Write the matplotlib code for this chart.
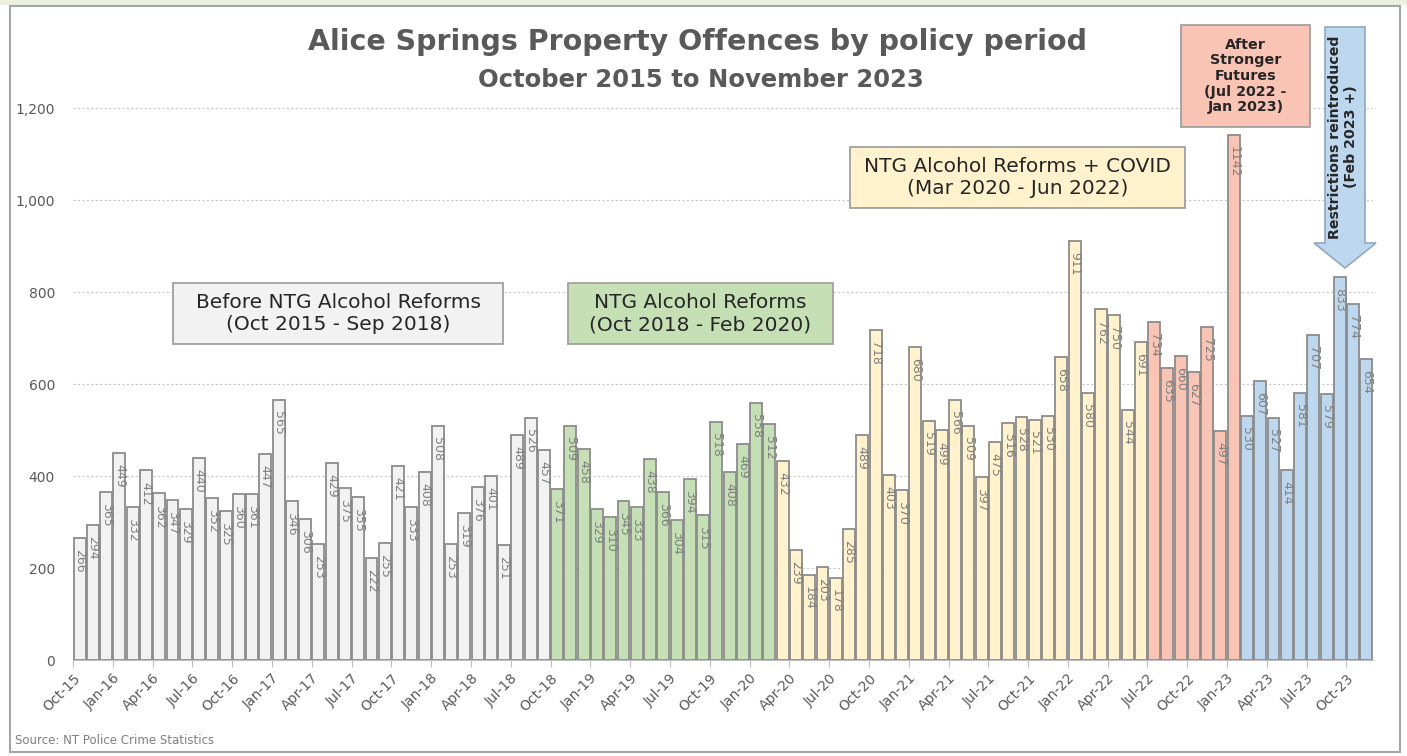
import matplotlib.pyplot as plt
from matplotlib.patches import Rectangle, FancyArrow

# monthly property offences, Oct 2015 - Nov 2023, split by policy period
before = [266, 294, 365, 449, 332, 412, 362, 347, 329, 440, 352, 325,
          360, 361, 447, 565, 346, 306, 253, 429, 375, 355, 222, 255,
          421, 333, 408, 508, 253, 319, 376, 401, 251, 489, 526, 457]
reforms = [371, 509, 458, 329, 310, 345, 333, 438, 366, 304, 394, 315,
           518, 408, 469, 558, 512]
covid = [432, 239, 184, 203, 178, 285, 489, 718, 403, 370, 680, 519,
         499, 566, 509, 397, 475, 516, 528, 521, 530, 658, 911, 580,
         762, 750, 544, 691]
after_sf = [734, 635, 660, 627, 725, 497, 1142]
restrict = [530, 607, 527, 414, 581, 707, 579, 833, 774, 654]

periods = [before, reforms, covid, after_sf, restrict]
colors = ["#F2F2F2", "#C5E0B4", "#FFF2CC", "#F9C4B4", "#BDD7EE"]

months = ["Jan", "Feb", "Mar", "Apr", "May", "Jun", "Jul", "Aug", "Sep", "Oct", "Nov", "Dec"]
n_total = sum(len(p) for p in periods)
month_labels = []
for k in range(n_total):
    m = (9 + k) % 12
    yr = 15 + (9 + k) // 12
    month_labels.append(f"{months[m]}-{yr:02d}")

W, H = 1407, 756
fig = plt.figure(figsize=(W / 100, H / 100), dpi=100)


def px(x, y):
    return x / W, 1 - y / H


# outer frame and top strip
fig.patches.append(Rectangle((0, 1 - 5 / H), 1, 5 / H, transform=fig.transFigure,
                             facecolor="#EBF1DE", edgecolor="none"))
fig.patches.append(Rectangle(px(10, 752), (1400 - 10) / W, (752 - 6) / H,
                             transform=fig.transFigure, facecolor="none",
                             edgecolor="#A6A6A6", linewidth=1.5))

ax = fig.add_axes([73 / W, 1 - 660 / H, (1373 - 73) / W, (660 - 16) / H])

start = 0
for vals, col in zip(periods, colors):
    xs = list(range(start, start + len(vals)))
    ax.bar(xs, vals, width=0.9, color=col, edgecolor="#8C8C8C", linewidth=1.3, zorder=2)
    for x, v in zip(xs, vals):
        ax.text(x, v - 24, str(v), rotation=270, ha="center", va="top",
                fontsize=9, color="#808080", zorder=3)
    start += len(vals)

ax.set_xlim(-0.5, n_total - 0.5)
ax.set_ylim(0, 1400)
ax.set_yticks(range(0, 1201, 200))
ax.set_yticklabels([f"{v:,}" for v in range(0, 1201, 200)], fontsize=10, color="#595959")
tick_idx = list(range(0, n_total, 3))
ax.set_xticks([i - 0.5 for i in tick_idx])
ax.set_xticklabels([month_labels[i] for i in tick_idx], rotation=45, ha="right",
                   rotation_mode="anchor", fontsize=10, color="#595959")
ax.tick_params(axis="y", length=0, pad=13)
ax.tick_params(axis="x", length=5, color="#BFBFBF", pad=3)
ax.grid(axis="y", linestyle=(0, (2, 2)), color="#C8C8C8", linewidth=0.8, zorder=0)
for s in ["top", "right", "left"]:
    ax.spines[s].set_visible(False)
ax.spines["bottom"].set_color("#BFBFBF")

# titles
fig.text(*px(698, 42), "Alice Springs Property Offences by policy period",
         ha="center", va="center", fontsize=20.5, fontweight="bold", color="#595959")
fig.text(*px(701, 80), "October 2015 to November 2023",
         ha="center", va="center", fontsize=17.5, fontweight="bold", color="#595959")


def label_box(x0, y0, x1, y1, text, fc, **kw):
    fig.patches.append(Rectangle(px(x0, y1), (x1 - x0) / W, (y1 - y0) / H,
                                 transform=fig.transFigure, facecolor=fc,
                                 edgecolor="#A0A0A0", linewidth=1.3))
    fig.text(*px((x0 + x1) / 2, (y0 + y1) / 2), text, ha="center", va="center",
             color="#262626", **kw)


label_box(173, 283, 503, 344, "Before NTG Alcohol Reforms\n(Oct 2015 - Sep 2018)",
          colors[0], fontsize=14.5, linespacing=1.2)
label_box(568, 283, 833, 344, "NTG Alcohol Reforms\n(Oct 2018 - Feb 2020)",
          colors[1], fontsize=14.5, linespacing=1.2)
label_box(850, 147, 1185, 208, "NTG Alcohol Reforms + COVID\n(Mar 2020 - Jun 2022)",
          colors[2], fontsize=14.5, linespacing=1.2)
label_box(1181, 25, 1310, 127, "After\nStronger\nFutures\n(Jul 2022 -\nJan 2023)",
          colors[3], fontsize=10.3, fontweight="bold", linespacing=1.15)

# restrictions arrow
ax0, ay0 = px(1345, 27)
ax1, ay1 = px(1345, 268)
fig.patches.append(FancyArrow(ax0, ay0, 0, ay1 - ay0, width=40 / W,
                              head_width=62 / W, head_length=25 / H,
                              length_includes_head=True, transform=fig.transFigure,
                              facecolor=colors[4], edgecolor="#8EA9C1", linewidth=1.2))
fig.text(*px(1343, 137), "Restrictions reintroduced\n(Feb 2023 +)", rotation=90,
         ha="center", va="center", fontsize=10.2, fontweight="bold", color="#262626",
         linespacing=1.1)

fig.text(*px(15, 740), "Source: NT Police Crime Statistics", ha="left", va="center",
         fontsize=8.5, color="#7F7F7F")

fig.savefig("out.png", dpi=100)
